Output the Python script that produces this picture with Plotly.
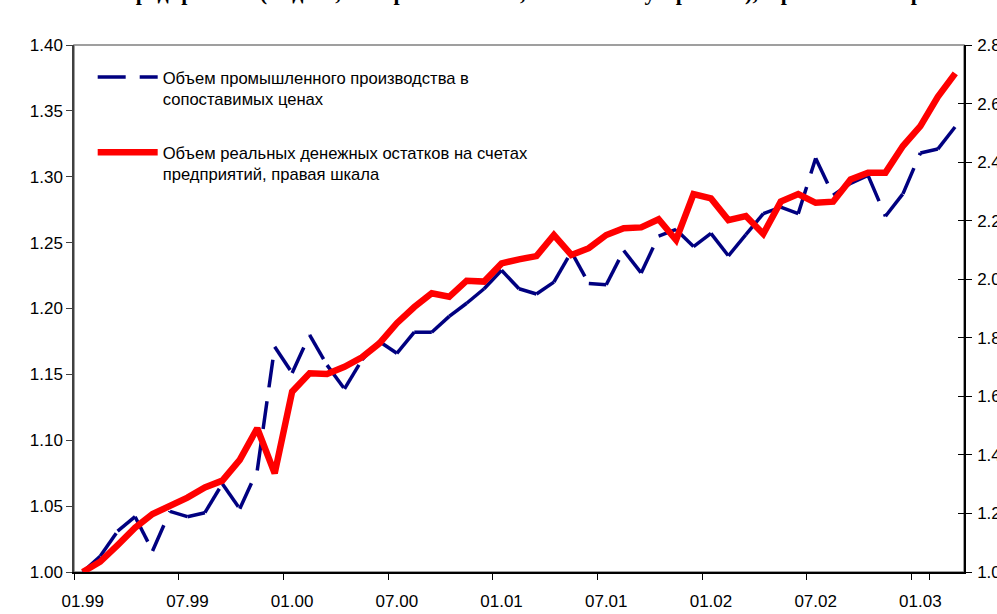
import plotly.graph_objects as go

months = ["01.99", "02.99", "03.99", "04.99", "05.99", "06.99", "07.99", "08.99", "09.99", "10.99", "11.99", "12.99",
          "01.00", "02.00", "03.00", "04.00", "05.00", "06.00", "07.00", "08.00", "09.00", "10.00", "11.00", "12.00",
          "01.01", "02.01", "03.01", "04.01", "05.01", "06.01", "07.01", "08.01", "09.01", "10.01", "11.01", "12.01",
          "01.02", "02.02", "03.02", "04.02", "05.02", "06.02", "07.02", "08.02", "09.02", "10.02", "11.02", "12.02",
          "01.03", "02.03", "03.03"]

industrial = [1.000, 1.012, 1.031, 1.042, 1.016, 1.046, 1.042, 1.045, 1.067, 1.048, 1.077, 1.171,
              1.151, 1.180, 1.157, 1.139, 1.161, 1.175, 1.166, 1.182, 1.182, 1.194, 1.204, 1.215,
              1.229, 1.215, 1.211, 1.220, 1.243, 1.219, 1.218, 1.244, 1.227, 1.255, 1.260, 1.247,
              1.257, 1.240, 1.256, 1.272, 1.277, 1.272, 1.314, 1.286, 1.295, 1.301, 1.270, 1.287,
              1.318, 1.321, 1.338]

money = [1.000, 1.035, 1.092, 1.151, 1.198, 1.226, 1.254, 1.289, 1.312, 1.383, 1.491, 1.337,
         1.616, 1.679, 1.676, 1.701, 1.733, 1.781, 1.850, 1.905, 1.952, 1.940, 1.995, 1.992,
         2.054, 2.068, 2.079, 2.151, 2.083, 2.106, 2.151, 2.174, 2.177, 2.205, 2.134, 2.291,
         2.276, 2.202, 2.216, 2.155, 2.265, 2.291, 2.261, 2.265, 2.341, 2.364, 2.364, 2.455,
         2.523, 2.623, 2.703]

tick_labels = ["01.99", "07.99", "01.00", "07.00", "01.01", "07.01", "01.02", "07.02", "01.03"]

name_ind = "Объем промышленного производства в<br>сопоставимых ценах"
name_money = "Объем реальных денежных остатков на счетах<br>предприятий, правая шкала"
title_text = "предприятий (индекс, январь 1999 г. = 1, сезонность устранена), в реальном выражении)"

BLUE = "#000080"
RED = "#FF0000"
DASH = "28px,14px"
FONT = "Liberation Sans, Arial, sans-serif"

fig = go.Figure()

# legend entry for the dashed series
fig.add_trace(go.Scatter(x=[None], y=[None], mode="lines", name=name_ind,
                         legendgroup="a", line=dict(color=BLUE, width=3.5, dash=DASH),
                         yaxis="y"))
# money balances (right scale)
fig.add_trace(go.Scatter(x=months, y=money, mode="lines", name=name_money,
                         legendgroup="b", line=dict(color=RED, width=6.5),
                         yaxis="y2"))
# industrial production: drawn segment by segment (dash pattern restarts at each point)
for k in range(len(months) - 1):
    fig.add_trace(go.Scatter(x=months[k:k + 2], y=industrial[k:k + 2], mode="lines",
                             showlegend=False, hoverinfo="skip",
                             line=dict(color=BLUE, width=3.5, dash=DASH), yaxis="y"))

fig.update_layout(
    width=997, height=614,
    margin=dict(l=74, r=33, t=45, b=42, autoexpand=False),
    paper_bgcolor="white", plot_bgcolor="white",
    font=dict(family=FONT, size=17, color="black"),
    showlegend=True,
    legend=dict(x=0.021, y=0.972, xanchor="left", yanchor="top",
                bgcolor="rgba(0,0,0,0)", traceorder="grouped", tracegroupgap=29,
                valign="top", itemwidth=60, font=dict(size=16.6, family=FONT)),
    xaxis=dict(type="category", categoryorder="array", categoryarray=months,
               tickmode="array", tickvals=tick_labels, ticktext=tick_labels,
               tickson="boundaries", ticks="outside", ticklen=6, tickcolor="black",
               tickangle=0, automargin=False, ticklabelstandoff=13,
               showline=True, linecolor="black", linewidth=1.5, showgrid=False,
               zeroline=False, range=[-0.5, 50.5], tickfont=dict(size=17)),
    yaxis=dict(range=[1.0, 1.4], tickmode="linear", tick0=1.0, dtick=0.05, tickformat=".2f",
               ticks="outside", ticklen=6, tickcolor="#404040", showline=True, automargin=False,
               linecolor="#404040", linewidth=1.5, showgrid=False, zeroline=False,
               tickfont=dict(size=17)),
    yaxis2=dict(range=[1.0, 2.8], tickmode="linear", tick0=1.0, dtick=0.2, tickformat=".1f",
                overlaying="y", side="right", anchor="x", ticks="outside", ticklen=6,
                tickcolor="black", showline=True, linecolor="black", linewidth=1.5, automargin=False,
                showgrid=False, zeroline=False, tickfont=dict(size=17), ticklabelstandoff=2),
    yaxis3=dict(range=[1.0, 2.8], tickmode="linear", tick0=1.0, dtick=0.2,
                overlaying="y", side="right", anchor="x", ticks="inside", ticklen=6,
                tickcolor="black", showticklabels=False, showline=False, automargin=False,
                showgrid=False, zeroline=False),
)

# plot-area frame
fig.add_shape(type="rect", xref="paper", yref="paper", x0=0, x1=1, y0=0, y1=1,
              line=dict(color="#808080", width=1.5), layer="below")

# cut-off title (only lower part visible)
fig.add_annotation(text="<b>" + title_text + "</b>", xref="paper", yref="paper",
                   x=0.55, y=1.099, xanchor="center", yanchor="middle", showarrow=False,
                   font=dict(family="Liberation Serif, Times New Roman, serif", size=22, color="black"))

# dummy trace to activate yaxis3 for crossing ticks
fig.add_trace(go.Scatter(x=[months[0]], y=[money[0]], mode="lines", showlegend=False,
                         hoverinfo="skip", line=dict(width=0), yaxis="y3"))

fig.write_html("out.html", config={"displayModeBar": False},
               post_script="document.body.style.margin='0';document.body.style.overflow='hidden';")
